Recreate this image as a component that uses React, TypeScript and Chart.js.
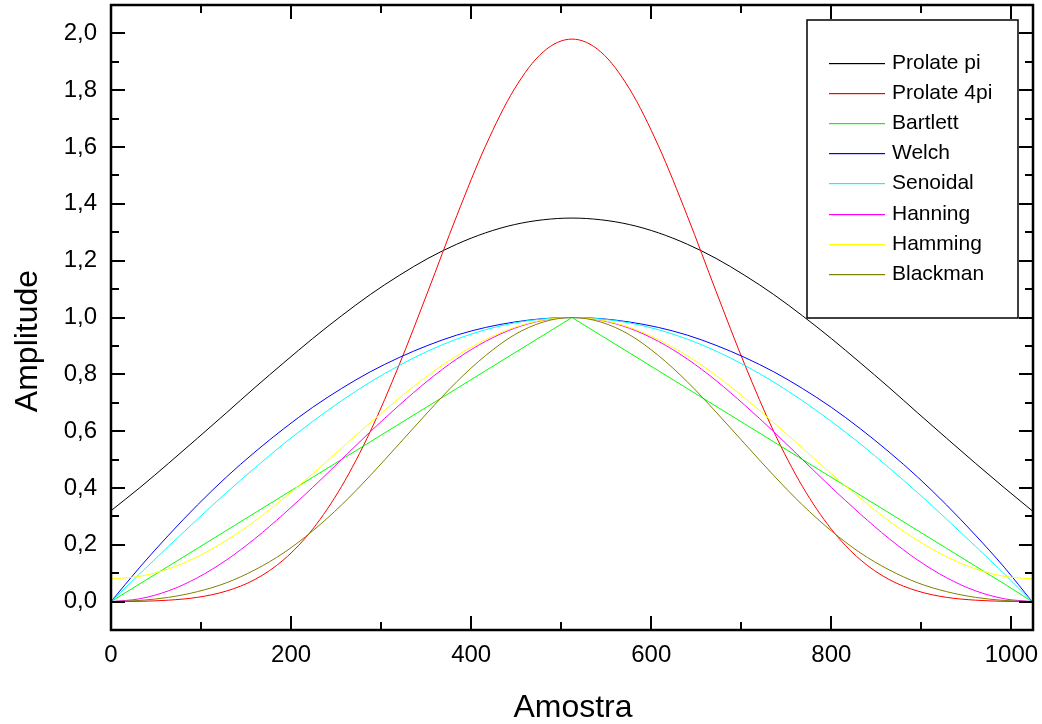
import React, { useEffect, useRef } from 'react';
import { Chart, registerables } from 'chart.js';

Chart.register(...registerables);

// Sample index (Amostra)
const samples = [0, 32, 64, 96, 128, 160, 192, 224, 256, 288, 320, 352, 384, 416, 448, 480, 512,
  544, 576, 608, 640, 672, 704, 736, 768, 800, 832, 864, 896, 928, 960, 992, 1023];

const prolatePi = [0.320, 0.401, 0.487, 0.575, 0.664, 0.754, 0.841, 0.926, 1.006, 1.081, 1.148, 1.208, 1.258, 1.298, 1.327, 1.344, 1.350,
  1.344, 1.327, 1.298, 1.258, 1.208, 1.148, 1.081, 1.006, 0.926, 0.841, 0.754, 0.664, 0.575, 0.487, 0.401, 0.320];
const prolate4Pi = [0.000, 0.001, 0.005, 0.015, 0.037, 0.078, 0.148, 0.255, 0.405, 0.599, 0.833, 1.092, 1.358, 1.604, 1.804, 1.935, 1.980,
  1.935, 1.804, 1.604, 1.358, 1.092, 0.833, 0.599, 0.405, 0.255, 0.148, 0.078, 0.037, 0.015, 0.005, 0.001, 0.000];
const bartlett = [0, 0.0625, 0.125, 0.1875, 0.25, 0.3125, 0.375, 0.4375, 0.5, 0.5625, 0.625, 0.6875, 0.75, 0.8125, 0.875, 0.9375, 1,
  0.9375, 0.875, 0.8125, 0.75, 0.6875, 0.625, 0.5625, 0.5, 0.4375, 0.375, 0.3125, 0.25, 0.1875, 0.125, 0.0625, 0];
const welch = [0, 0.121, 0.234, 0.340, 0.438, 0.527, 0.609, 0.684, 0.750, 0.809, 0.859, 0.902, 0.938, 0.965, 0.984, 0.996, 1,
  0.996, 0.984, 0.965, 0.938, 0.902, 0.859, 0.809, 0.750, 0.684, 0.609, 0.527, 0.438, 0.340, 0.234, 0.121, 0];
const senoidal = [0, 0.098, 0.195, 0.290, 0.383, 0.471, 0.556, 0.634, 0.707, 0.773, 0.831, 0.882, 0.924, 0.957, 0.981, 0.995, 1,
  0.995, 0.981, 0.957, 0.924, 0.882, 0.831, 0.773, 0.707, 0.634, 0.556, 0.471, 0.383, 0.290, 0.195, 0.098, 0];
const hanning = [0, 0.010, 0.038, 0.084, 0.146, 0.222, 0.309, 0.402, 0.500, 0.598, 0.691, 0.778, 0.854, 0.916, 0.962, 0.990, 1,
  0.990, 0.962, 0.916, 0.854, 0.778, 0.691, 0.598, 0.500, 0.402, 0.309, 0.222, 0.146, 0.084, 0.038, 0.010, 0];
const hamming = [0.080, 0.089, 0.115, 0.158, 0.215, 0.284, 0.364, 0.450, 0.540, 0.630, 0.716, 0.796, 0.865, 0.922, 0.965, 0.991, 1,
  0.991, 0.965, 0.922, 0.865, 0.796, 0.716, 0.630, 0.540, 0.450, 0.364, 0.284, 0.215, 0.158, 0.115, 0.089, 0.080];
const blackman = [0, 0.004, 0.015, 0.035, 0.066, 0.112, 0.172, 0.249, 0.340, 0.444, 0.555, 0.667, 0.774, 0.866, 0.939, 0.984, 1,
  0.984, 0.939, 0.866, 0.774, 0.667, 0.555, 0.444, 0.340, 0.249, 0.172, 0.112, 0.066, 0.035, 0.015, 0.004, 0];

const seriesLabels = ['Prolate pi', 'Prolate 4pi', 'Bartlett', 'Welch', 'Senoidal', 'Hanning', 'Hamming', 'Blackman'];
const seriesValues = [prolatePi, prolate4Pi, bartlett, welch, senoidal, hanning, hamming, blackman];
const seriesColors = ['#000000', '#FF0000', '#00FF00', '#0000FF', '#00FFFF', '#FF00FF', '#FFFF00', '#808000'];

const xMajorTicks = [0, 200, 400, 600, 800, 1000];
const xMinorTicks = [100, 300, 500, 700, 900];
const yMajorTicks = [0, 0.2, 0.4, 0.6, 0.8, 1.0, 1.2, 1.4, 1.6, 1.8, 2.0];
const yMinorTicks = [0.1, 0.3, 0.5, 0.7, 0.9, 1.1, 1.3, 1.5, 1.7, 1.9];

const xTitle = 'Amostra';
const yTitle = 'Amplitude';

const FONT = "'Liberation Sans', Arial, sans-serif";

const zeroPadding = (s: any) => {
  s.paddingTop = 0;
  s.paddingBottom = 0;
  s.paddingLeft = 0;
  s.paddingRight = 0;
};

export default function App() {
  const ref = useRef<HTMLCanvasElement>(null);

  useEffect(() => {
    if (!ref.current) return;

    const framePlugin = {
      id: 'originFrame',
      afterDraw(chart: any) {
        const { ctx, chartArea: a, scales } = chart;
        const xs = scales.x;
        const ys = scales.y;
        ctx.save();
        ctx.strokeStyle = '#000';
        ctx.lineCap = 'butt';
        // ticks (inward, all four sides)
        ctx.lineWidth = 2;
        const MAJ = 14;
        const MIN = 8;
        const drawX = (v: number, len: number) => {
          const px = Math.round(xs.getPixelForValue(v));
          ctx.beginPath();
          ctx.moveTo(px, a.bottom);
          ctx.lineTo(px, a.bottom - len);
          ctx.moveTo(px, a.top);
          ctx.lineTo(px, a.top + len);
          ctx.stroke();
        };
        const drawY = (v: number, len: number) => {
          const py = Math.round(ys.getPixelForValue(v));
          ctx.beginPath();
          ctx.moveTo(a.left, py);
          ctx.lineTo(a.left + len, py);
          ctx.moveTo(a.right, py);
          ctx.lineTo(a.right - len, py);
          ctx.stroke();
        };
        xMajorTicks.forEach((v) => drawX(v, MAJ));
        xMinorTicks.forEach((v) => drawX(v, MIN));
        yMajorTicks.forEach((v) => drawY(v, MAJ));
        yMinorTicks.forEach((v) => drawY(v, MIN));
        // frame
        ctx.lineWidth = 2.5;
        ctx.strokeRect(a.left, a.top, a.right - a.left, a.bottom - a.top);

        // axis titles
        ctx.fillStyle = '#000';
        ctx.font = `32px ${FONT}`;
        ctx.textAlign = 'center';
        ctx.textBaseline = 'middle';
        ctx.fillText(xTitle, (a.left + a.right) / 2 + 1, 708);
        ctx.save();
        ctx.translate(28, 341);
        ctx.rotate(-Math.PI / 2);
        ctx.fillText(yTitle, 0, 0);
        ctx.restore();

        // legend box
        const bw = 211;
        const bh = 298;
        const bx = a.right - 15 - bw;
        const by = a.top + 15;
        ctx.fillStyle = '#fff';
        ctx.fillRect(bx, by, bw, bh);
        ctx.strokeStyle = '#000';
        ctx.lineWidth = 1.5;
        ctx.strokeRect(bx, by, bw, bh);
        ctx.font = `21px ${FONT}`;
        ctx.textBaseline = 'middle';
        ctx.textAlign = 'left';
        seriesLabels.forEach((label, i) => {
          const ry = Math.round(by + 43 + i * 30.1);
          ctx.fillStyle = seriesColors[i];
          ctx.fillRect(bx + 22, ry, 56, 1.2);
          ctx.fillStyle = '#000';
          ctx.fillText(label, bx + 85, ry);
        });
        ctx.restore();
      },
    };

    Chart.defaults.color = '#000';

    const chart = new Chart(ref.current, {
      type: 'line',
      data: {
        datasets: seriesLabels.map((label, i) => ({
          label,
          data: samples.map((s, j) => ({ x: s, y: seriesValues[i][j] })),
          borderColor: seriesColors[i],
          backgroundColor: seriesColors[i],
          borderWidth: 1,
          pointRadius: 0,
          fill: false,
          order: 7 - i,
          cubicInterpolationMode: label === 'Bartlett' ? 'default' : 'monotone',
          tension: 0,
        })),
      },
      options: {
        responsive: false,
        animation: false,
        events: [],
        layout: { padding: { top: 5, right: 9, left: 0, bottom: 0 } },
        plugins: {
          legend: { display: false },
          tooltip: { enabled: false },
        },
        scales: {
          x: {
            type: 'linear',
            min: 0,
            max: 1024,
            grid: { display: false, drawTicks: false },
            border: { display: false },
            afterBuildTicks: (s: any) => {
              s.ticks = xMajorTicks.map((v) => ({ value: v }));
            },
            afterFit: (s: any) => {
              s.height = 94;
              zeroPadding(s);
            },
            ticks: {
              autoSkip: false,
              maxRotation: 0,
              padding: 11,
              color: '#000',
              font: { family: FONT, size: 24 },
              callback: (v: any) => String(v),
            },
            title: { display: false },
          },
          y: {
            type: 'linear',
            min: -0.1,
            max: 2.1,
            grid: { display: false, drawTicks: false },
            border: { display: false },
            afterBuildTicks: (s: any) => {
              s.ticks = yMajorTicks.map((v) => ({ value: v }));
            },
            afterFit: (s: any) => {
              s.width = 111;
              zeroPadding(s);
            },
            ticks: {
              autoSkip: false,
              padding: 14,
              color: '#000',
              font: { family: FONT, size: 24 },
              callback: (v: any) => Number(v).toFixed(1).replace('.', ','),
            },
            title: { display: false },
          },
        },
      },
      plugins: [framePlugin],
    } as any);

    return () => chart.destroy();
  }, []);

  return (
    <div style={{ position: 'absolute', left: 0, top: 0, width: 1042, height: 724, background: '#fff' }}>
      <canvas ref={ref} width={1042} height={724} style={{ display: 'block', width: 1042, height: 724 }} />
    </div>
  );
}
